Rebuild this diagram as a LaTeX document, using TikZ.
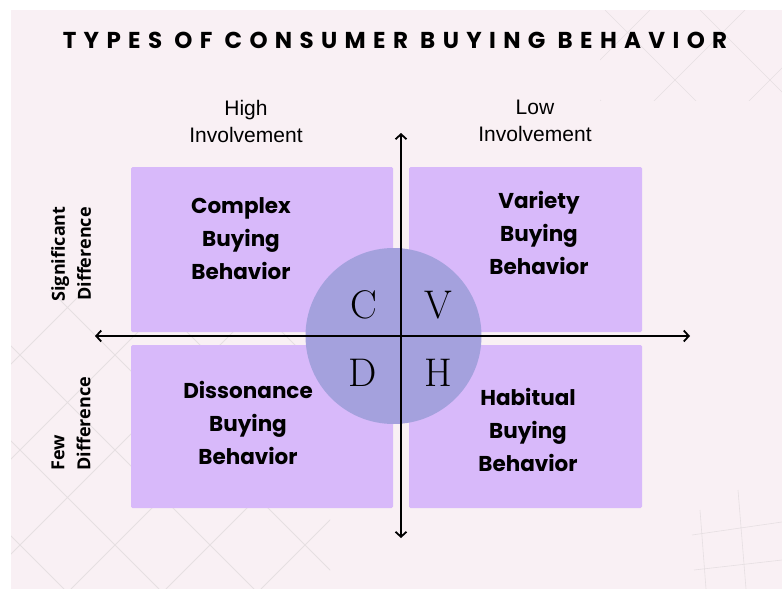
\documentclass[tikz,border=0pt]{standalone}
\usepackage{fontspec}
\usetikzlibrary{arrows.meta}
\setmainfont{Liberation Sans}
\newfontfamily\titlefont[LetterSpace=32]{Poppins}
\newfontfamily\quadfont{Poppins}
\newfontfamily\sidefont{Open Sans}
\definecolor{bgpink}{RGB}{249,240,244}
\definecolor{quadpurple}{RGB}{216,185,250}
\definecolor{discblue}{RGB}{164,161,221}
\definecolor{latticegray}{RGB}{230,223,226}

\begin{document}
\begin{tikzpicture}[x=1pt,y=-1pt,
  quad/.style={fill=quadpurple,rounded corners=1.5pt},
  quadtext/.style={font=\quadfont\bfseries\fontsize{21.5}{33}\selectfont,align=center},
  axis/.style={line width=1.8pt,{Straight Barb[length=5pt,width=11pt]}-{Straight Barb[length=5pt,width=11pt]}},
  headtext/.style={font=\fontsize{21}{27}\selectfont,align=center},
  sidetext/.style={font=\sidefont\bfseries\fontsize{18}{26}\selectfont,rotate=90},
  letter/.style={font=\fontspec{Latin Modern Roman}\fontsize{40}{40}\selectfont}]
  \useasboundingbox (0,0) rectangle (782,589);
  \fill[white] (0,0) rectangle (782,589);
  \fill[bgpink] (11,10) rectangle (782,589);

  %faint lattice behind everything
  \begin{scope}
    \clip (11,290) rectangle (330,589);
    \foreach \c in {375,470,...,850}
      \draw[latticegray,line width=0.8pt] (\c-589,589) -- (\c-290,290);
    \foreach \d in {-620,-525,...,-50}
      \draw[latticegray,line width=0.8pt] (\d+290,290) -- (\d+589,589);
  \end{scope}
  \begin{scope}
    \clip (600,10) rectangle (782,100);
    \foreach \c in {660,755,...,945}
      \draw[latticegray,line width=0.6pt] (\c-110,110) -- (\c-10,10);
    \foreach \d in {500,595,...,785}
      \draw[latticegray,line width=0.6pt] (\d+10,10) -- (\d+110,110);
  \end{scope}
  \draw[latticegray,line width=0.6pt] (700,510) -- (706,589) (738,490) -- (746,589)
    (692,535) -- (782,522) (694,570) -- (782,560);

  %quadrants
  \fill[quad] (131,167) rectangle (393,332);
  \fill[quad] (409,167) rectangle (642,332);
  \fill[quad] (131,345) rectangle (393,508);
  \fill[quad] (409,345) rectangle (642,508);

  %disc in the middle
  \node[circle,fill=discblue,minimum size=176pt,inner sep=0pt] (disc) at (393.5,336) {};

  %axes
  \coordinate (west) at (95,336);
  \coordinate (east) at (690,336);
  \coordinate (north) at (401,133);
  \coordinate (south) at (401,538);
  \draw[axis] (west) -- (east);
  \draw[axis] (north) -- (south);

  \node[letter] (c) at (364,305) {C};
  \node[letter] (v) at (438,305) {V};
  \node[letter] (d) at (363,373) {D};
  \node[letter] (h) at (438,373) {H};

  %labels
  \node[font=\titlefont\bfseries\fontsize{23}{23}\selectfont] (title) at (395,40) {TYPES OF CONSUMER BUYING BEHAVIOR};
  \node[headtext] (high) at (246,121) {High\\Involvement};
  \node[headtext] (low) at (535,121) {Low\\Involvement};
  \node[sidetext,align=center] (sig) at (71,254) {Significant\\Difference};
  \node[sidetext,align=left,anchor=west] (few) at (71,474) {Few\\Difference};

  \node[quadtext] (complex) at (241,239) {Complex\\Buying\\Behavior};
  \node[quadtext] (variety) at (539,233) {Variety\\Buying\\Behavior};
  \node[quadtext] (dissonance) at (248,423) {Dissonance\\Buying\\Behavior};
  \node[quadtext] (habitual) at (528,430) {Habitual\\Buying\\Behavior};
\end{tikzpicture}
\end{document}
